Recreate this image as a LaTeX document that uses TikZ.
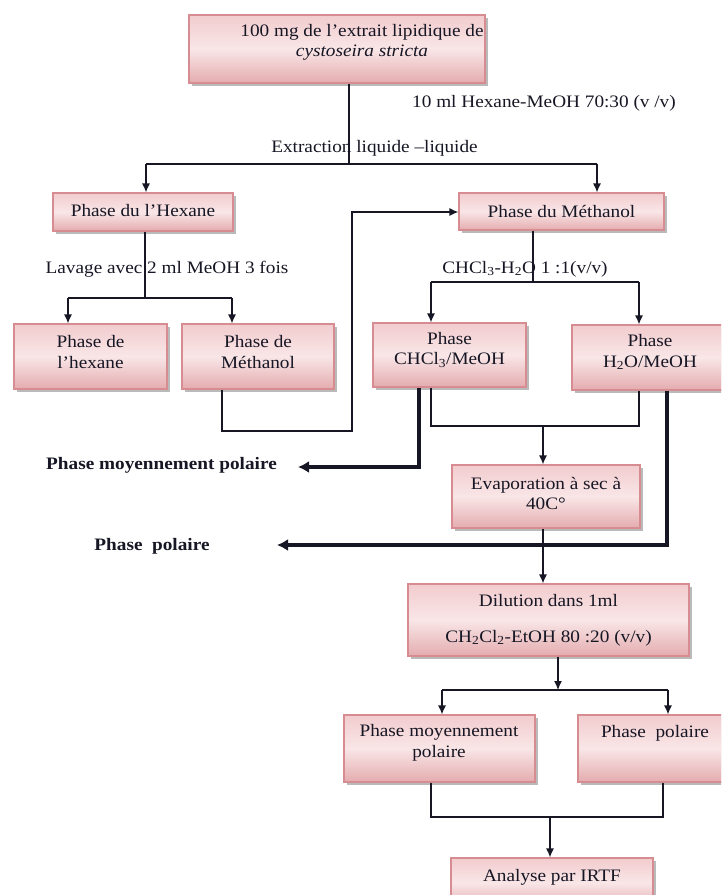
\documentclass[tikz,border=0pt]{standalone}
\usepackage{fontspec}
\setmainfont{Liberation Serif}[FakeStretch=1.1]
\usetikzlibrary{arrows.meta,shadows}
\definecolor{boxtop}{RGB}{242,204,206}
\definecolor{boxmid}{RGB}{249,230,231}
\definecolor{boxbot}{RGB}{228,172,175}
\definecolor{boxline}{RGB}{214,140,144}
\definecolor{ink}{RGB}{22,22,36}
\tikzset{
  pbox/.style={draw=boxline, line width=1.2pt, top color=boxtop, bottom color=boxbot, middle color=boxmid,
    drop shadow={shadow xshift=2.5pt, shadow yshift=-2.5pt, fill=black!60, opacity=0.45}, inner sep=0pt},
  txt/.style={text=ink, font=\fontsize{17.5}{20.5}\selectfont, align=center, inner sep=0pt},
  btxt/.style={text=ink, font=\fontsize{17.5}{20.5}\selectfont\bfseries, align=center, inner sep=0pt},
  conn/.style={line width=1.2pt, draw=ink},
  arr/.style={conn, -{Latex[length=9pt,width=8pt]}},
  heavy/.style={line width=3.8pt, draw=ink, line join=miter, -{Latex[length=11pt,width=12pt]}}
}
\begin{document}
\begin{tikzpicture}[x=1pt,y=-1pt]
\useasboundingbox (0,0) rectangle (721,895);
\clip (0,0) rectangle (721,895);

% boxes
\node[pbox, minimum width=296pt, minimum height=68pt] (top) at (337,49) {};
\node[pbox, minimum width=180pt, minimum height=38pt] (hexa) at (143,212) {};
\node[pbox, minimum width=205pt, minimum height=37pt] (meth) at (561.5,211.5) {};
\node[pbox, minimum width=153pt, minimum height=65pt] (ph1) at (90.5,356.5) {};
\node[pbox, minimum width=152pt, minimum height=65pt] (ph2) at (258,356.5) {};
\node[pbox, minimum width=153pt, minimum height=64pt] (ch) at (449.5,355) {};
\node[pbox, minimum width=154pt, minimum height=65pt] (aq) at (649,357.5) {};
\node[pbox, minimum width=188pt, minimum height=63pt] (ev) at (546,496.5) {};
\node[pbox, minimum width=281pt, minimum height=72pt] (dil) at (548.5,620) {};
\node[pbox, minimum width=191pt, minimum height=67pt] (pm) at (439.5,748.5) {};
\node[pbox, minimum width=154pt, minimum height=67pt] (pp) at (655,748.5) {};
\node[pbox, minimum width=202pt, minimum height=50pt] (an) at (552,883) {};

% box texts
\node[txt] (ttop) at (362,42.5) {100 mg de l’extrait lipidique de\\ \textit{cystoseira stricta}};
\node[txt] (thexa) at (143,211) {Phase du l’Hexane};
\node[txt] (tmeth) at (561.5,211) {Phase du Méthanol};
\node[txt] (tph1) at (90.5,352) {Phase de\\l’hexane};
\node[txt] (tph2) at (258,352) {Phase de\\Méthanol};
\node[txt] (tch) at (449.5,350) {Phase\\CHCl\textsubscript{3}/MeOH};
\node[txt] (taq) at (650,352) {Phase\\H\textsubscript{2}O/MeOH};
\node[txt] (tev) at (546,493.5) {Evaporation à sec à\\40C°};
\node[txt] (tdil) at (548.5,620) {Dilution dans 1ml\\[15.5pt]CH\textsubscript{2}Cl\textsubscript{2}-EtOH 80 :20 (v/v)};
\node[txt] (tpm) at (439,743) {Phase moyennement\\polaire};
\node[txt] (tpp) at (655,733) {Phase\ \ polaire};
\node[txt] (tan) at (552,877) {Analyse par IRTF};

% free labels
\node[txt] (lbl1) at (544,103) {10 ml Hexane-MeOH 70:30 (v /v)};
\node[txt] (lbl2) at (374.5,148) {Extraction liquide –liquide};
\node[txt] (lbl3) at (167,269) {Lavage avec 2 ml MeOH 3 fois};
\node[txt] (lbl4) at (525,269) {CHCl\textsubscript{3}-H\textsubscript{2}O 1 :1(v/v)};
\node[btxt] (lbl5) at (161.5,465) {Phase moyennement polaire};
\node[btxt] (lbl6) at (152,546) {Phase\ \ polaire};

% junction coordinates
\coordinate (j0) at (349,164);
\coordinate (a1) at (146,164);
\coordinate (a2) at (597,164);
\coordinate (j1) at (145,298);
\coordinate (b1) at (68,298);
\coordinate (b2) at (232,298);
\coordinate (c1) at (222,431);
\coordinate (c2) at (352,431);
\coordinate (c3) at (352,212);
\coordinate (j2) at (533,282);
\coordinate (d1) at (431,282);
\coordinate (d2) at (639,282);
\coordinate (e1) at (431,426);
\coordinate (e2) at (639,426);
\coordinate (e3) at (543,426);
\coordinate (f1) at (419,467);
\coordinate (f2) at (298,467);
\coordinate (g1) at (667,545);
\coordinate (g2) at (277,545);
\coordinate (h1) at (543,540);
\coordinate (k0) at (558,690);
\coordinate (k1) at (442,690);
\coordinate (k2) at (668,690);
\coordinate (m1) at (431,817);
\coordinate (m2) at (663,817);
\coordinate (m3) at (550,817);

% connectors
\draw[conn] (top.south -| j0) -- (j0);
\draw[conn] (a1) -- (a2);
\draw[arr] (a1) -- (a1 |- hexa.north);
\draw[arr] (a2) -- (a2 |- meth.north);

\draw[conn] (hexa.south -| j1) -- (j1);
\draw[conn] (b1) -- (b2);
\draw[arr] (b1) -- (b1 |- ph1.north);
\draw[arr] (b2) -- (b2 |- ph2.north);

\draw[arr] (ph2.south -| c1) -- (c1) -- (c2) -- (c3) -- (meth.west |- c3);

\draw[conn] (meth.south -| j2) -- (j2);
\draw[conn] (d1) -- (d2);
\draw[arr] (d1) -- (d1 |- ch.north);
\draw[arr] (d2) -- (d2 |- aq.north);

\draw[conn] (ch.south -| e1) -- (e1) -- (e2) -- (aq.south -| e2);
\draw[arr] (e3) -- (e3 |- ev.north);

\draw[heavy] (ch.south -| f1) -- (f1) -- (f2);
\draw[heavy] (aq.south -| g1) -- (g1) -- (g2);

\draw[arr] (ev.south -| h1) -- (dil.north -| h1);

\draw[arr] (dil.south -| k0) -- (k0);
\draw[conn] (k1) -- (k2);
\draw[arr] (k1) -- (k1 |- pm.north);
\draw[arr] (k2) -- (k2 |- pp.north);

\draw[conn] (pm.south -| m1) -- (m1) -- (m2) -- (pp.south -| m2);
\draw[arr] (m3) -- (m3 |- an.north);
\end{tikzpicture}
\end{document}
